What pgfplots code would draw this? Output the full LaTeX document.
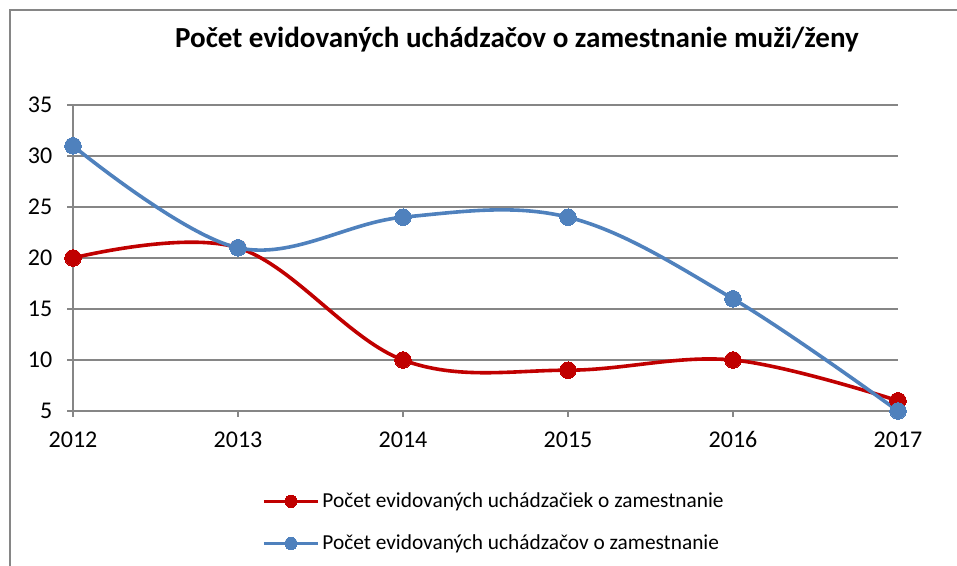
\documentclass[border=0pt]{standalone}
\usepackage{pgfplots}
\pgfplotsset{compat=1.18}
\usepackage{fontspec}
\setmainfont{Carlito}
\definecolor{serred}{HTML}{C00000}
\definecolor{serblue}{HTML}{4F81BD}
\definecolor{axgray}{HTML}{868686}

\begin{document}
\begin{tikzpicture}
\useasboundingbox (0,0) rectangle (717.75pt,424.5pt);
\draw[axgray, line width=1.1pt] (7.5pt,0) -- (7.5pt,417pt) -- (717.75pt,417pt);
\node[font=\fontsize{21.8}{26}\selectfont\bfseries] at (387.75pt,394.5pt) {Počet evidovaných uchádzačov o zamestnanie muži/ženy};
\begin{axis}[
  at={(54.75pt,116.25pt)}, anchor=south west,
  scale only axis, width=618.75pt, height=229.5pt,
  xmin=2012, xmax=2017, ymin=5, ymax=35,
  xtick={2012,2013,2014,2015,2016,2017}, ytick={5,10,15,20,25,30,35},
  axis x line=bottom, axis y line=left,
  axis line style={axgray, line width=1pt, -},
  tick align=outside, major tick length=4.5pt,
  tick style={axgray, line width=1pt},
  ymajorgrids, grid style={axgray, line width=1pt},
  ticklabel style={font=\fontsize{18}{21}\selectfont},
  /pgf/number format/assume math mode=true,
  xticklabel style={/pgf/number format/1000 sep={}, text height=12.5pt, text depth=0pt, yshift=-6.5pt},
  yticklabel style={xshift=-7.5pt},
  legend style={at={(0.229,-0.364)}, anchor=west, draw=none, fill=none,
    font=\fontsize{16}{19}\selectfont, row sep=15pt, inner sep=0pt},
  legend cell align=left,
  legend image code/.code={\draw[#1, mark size=4.6pt, mark repeat=2, mark phase=2] plot coordinates {(0pt,0pt) (20.25pt,0pt) (40.5pt,0pt)};},
]
\addplot[serred, line width=2.7pt, smooth, tension=0.6, mark=*, mark size=6.2pt, mark options={fill=serred, draw=serred, line width=0pt}]
  coordinates {(2012,20) (2013,21) (2014,10) (2015,9) (2016,10) (2017,6)};
\addlegendentry{Počet evidovaných uchádzačiek o zamestnanie}
\addplot[serblue, line width=2.7pt, smooth, tension=0.6, mark=*, mark size=6.2pt, mark options={fill=serblue, draw=serblue, line width=0pt}]
  coordinates {(2012,31) (2013,21) (2014,24) (2015,24) (2016,16) (2017,5)};
\addlegendentry{Počet evidovaných uchádzačov o zamestnanie}
\end{axis}
\end{tikzpicture}
\end{document}
